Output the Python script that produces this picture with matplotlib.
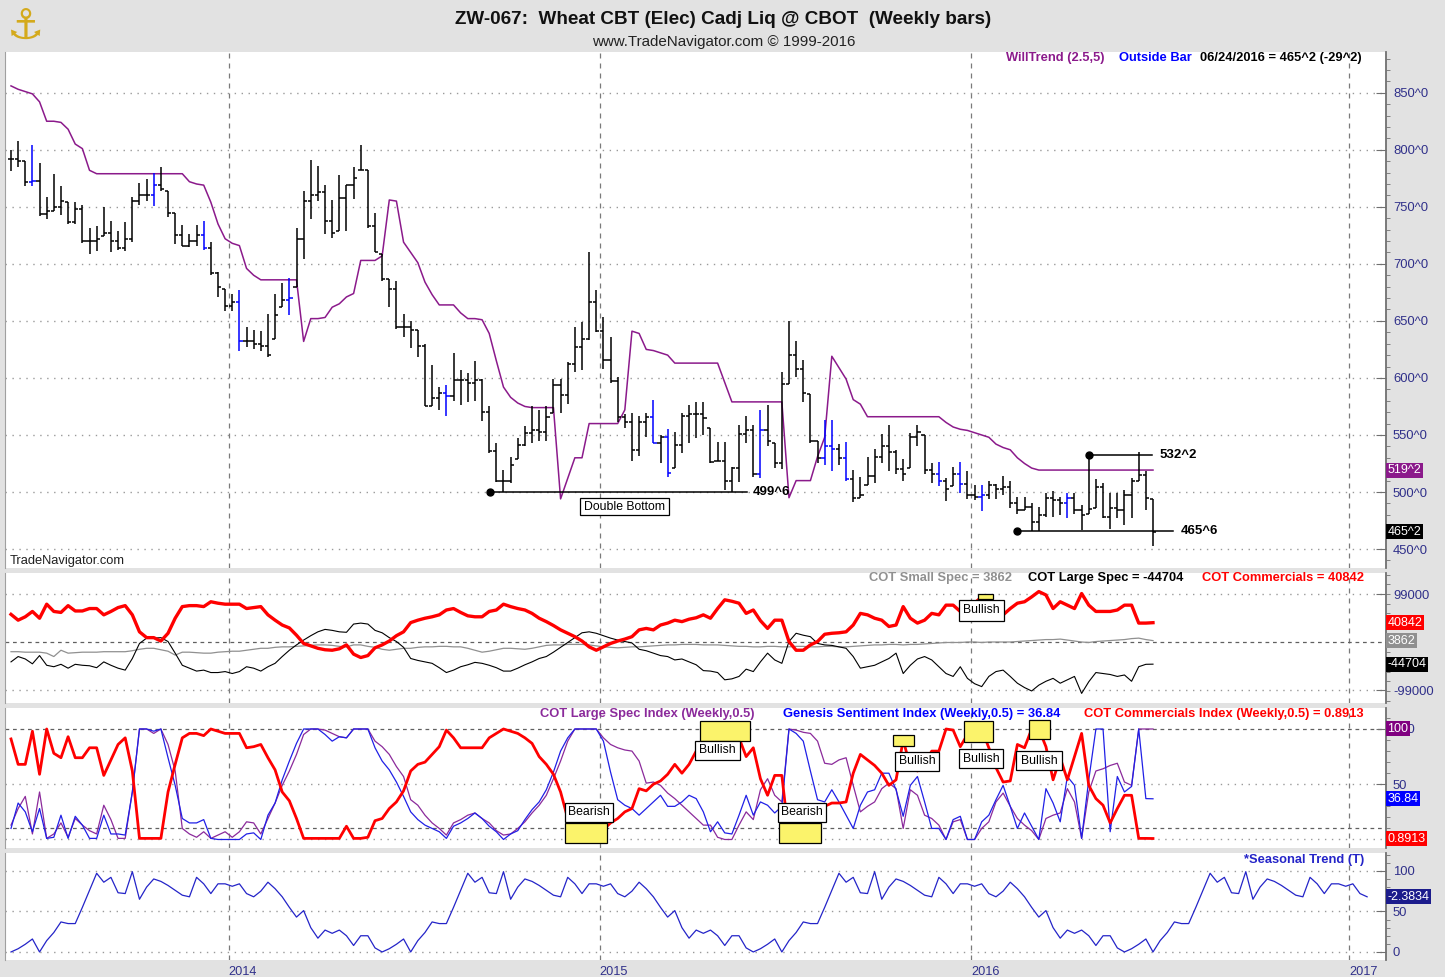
import numpy as np
import pandas as pd
import matplotlib
matplotlib.use('Agg')
import matplotlib.pyplot as plt
from matplotlib.patches import Rectangle
from matplotlib.ticker import FixedLocator

W, H = 1445, 977
plt.rcParams['font.family'] = ['Liberation Sans', 'DejaVu Sans']

LAST_DATE = '2016-06-24'

# weekly bars (cents/bushel)
highs = [800, 808, 790, 804, 788, 759, 779, 768, 754, 754,
         752, 731, 733, 750, 738, 729, 737, 759, 771, 774,
         780, 785, 764, 745, 734, 726, 734, 738, 719, 693,
         678, 674, 677, 645, 642, 641, 656, 674, 683, 688,
         731, 764, 791, 786, 769, 756, 778, 769, 785, 804,
         782, 745, 709, 687, 685, 656, 650, 642, 630, 611,
         592, 594, 622, 607, 604, 615, 599, 575, 543, 519,
         531, 547, 558, 575, 572, 575, 599, 599, 614, 645,
         649, 710, 677, 653, 636, 601, 568, 569, 567, 569,
         581, 550, 555, 553, 569, 576, 579, 579, 556, 544,
         544, 522, 559, 567, 559, 572, 576, 543, 605, 650,
         632, 616, 586, 545, 563, 563, 542, 544, 519, 513,
         531, 538, 551, 559, 537, 529, 552, 559, 550, 525,
         526, 512, 522, 526, 518, 506, 506, 510, 507, 514,
         510, 496, 496, 490, 487, 499, 501, 496, 499, 499,
         489, 532.25, 511, 508, 499, 499, 502, 512, 535, 518, 494]
lows = [781, 785, 768, 768, 742, 739, 746, 743, 735, 735,
        718, 709, 711, 724, 710, 712, 711, 719, 752, 755,
        751, 764, 741, 717, 716, 715, 716, 712, 690, 671,
        659, 659, 624, 627, 625, 624, 618, 634, 662, 655,
        680, 704, 739, 755, 726, 723, 729, 729, 757, 782,
        731, 710, 685, 662, 643, 636, 626, 618, 575, 575,
        572, 567, 580, 576, 579, 580, 562, 534, 509, 499.75,
        508, 529, 540, 543, 545, 545, 569, 569, 577, 605,
        607, 633, 640, 608, 596, 561, 556, 527, 532, 548,
        543, 525, 513, 521, 534, 543, 547, 550, 525, 527,
        502, 499.75, 509, 543, 513, 512, 540, 521, 520, 595,
        601, 579, 543, 525, 524, 518, 524, 510, 491, 495,
        506, 508, 525, 518, 516, 510, 521, 540, 516, 508,
        505, 492, 505, 499, 494, 493, 483, 494, 494, 497,
        486, 481, 484, 466, 465.75, 478, 478, 480, 477, 481,
        467, 481, 486, 477, 468, 477, 471, 477, 510, 484, 453]
closes = [792, 790, 772, 773, 744, 746, 750, 755, 737, 748,
          720, 720, 722, 727, 720, 714, 722, 755, 760, 760,
          769, 766, 745, 725, 716, 720, 725, 714, 692, 680,
          663, 667, 632, 632, 630, 628, 620, 655, 668, 670,
          722, 755, 760, 763, 738, 727, 758, 769, 775, 782,
          733, 710, 687, 678, 645, 645, 642, 628, 575, 582,
          587, 584, 598, 598, 596, 598, 570, 536, 510, 510,
          524, 541, 552, 554, 553, 566, 594, 585, 612, 627,
          634, 667, 641, 616, 597, 566, 561, 537, 561, 566,
          543, 548, 517, 541, 567, 568, 568, 565, 526, 527,
          510, 521, 551, 554, 516, 554, 545, 525, 595, 620,
          608, 587, 545, 530, 540, 538, 530, 511, 495, 497,
          514, 531, 540, 535, 520, 516, 548, 553, 519, 516,
          510, 503, 516, 507, 497, 496, 497, 506, 503, 504,
          490, 484, 487, 474, 480, 495, 493, 490, 495, 484,
          480, 485, 504, 478, 486, 484, 497, 510, 515, 494.5, 465.25]
outside_bars = [3, 20, 27, 32, 39, 61, 90, 92, 105, 114, 115, 117, 130, 133, 136, 148]

willtrend = [856, 853, 851, 849, 842, 825, 825, 824, 818, 805,
             801, 782, 779, 779, 779, 779, 779, 779, 779, 779,
             779, 779, 779, 779, 779, 772, 770, 769, 754, 735,
             722, 718, 716, 696, 690, 686, 686, 686, 686, 686,
             686, 632, 652, 652, 653, 662, 665, 671, 674, 703,
             703, 703, 707, 756, 755, 719, 710, 701, 684, 673,
             664, 664, 664, 657, 652, 652, 651, 639, 615, 592,
             583, 578, 575, 574, 574, 574, 574, 494, 512, 530,
             530, 560, 560, 560, 560, 560, 572, 641, 639, 625,
             624, 622, 620, 613, 613, 613, 613, 613, 613, 613,
             596, 579, 579, 579, 579, 579, 579, 579, 579, 495,
             510, 510, 510, 531, 548, 619, 609, 599, 581, 577,
             566, 566, 566, 566, 566, 566, 566, 566, 566, 566,
             566, 561, 557, 555, 554, 552, 550, 548, 542, 539,
             537, 530, 525, 521, 519.25, 519.25, 519.25, 519.25, 519.25, 519.25,
             519.25, 519.25, 519.25, 519.25, 519.25, 519.25, 519.25, 519.25, 519.25, 519.25, 519.25]

# COT net positions (thousands of contracts)
cot_small = [-19, -19, -20, -20, -20, -22, -29, -16, -22, -21,
             -20, -20, -20, -19, -19, -19, -19, -17, -14, -12,
             -12, -15, -18, -26, -20, -20, -21, -22, -22, -20,
             -19, -18, -18, -16, -14, -12, -12, -10, -9, -9,
             -8, -7, -6, -5, -5, -6, -8, -9, -5, -5,
             -8, -10, -14, -16, -14, -12, -12, -10, -9, -9,
             -8, -8, -9, -9, -12, -16, -20, -18, -15, -12,
             -12, -13, -14, -12, -9, -6, -5, -5, -4, -4,
             -4, -5, -7, -9, -10, -11, -10, -9, -9, -8,
             -7, -6, -5, -5, -4, -4, -4, -5, -5, -5,
             -6, -7, -8, -8, -9, -9, -8, -8, -9, -9,
             -8, -8, -9, -9, -8, -8, -9, -9, -8, -7,
             -6, -5, -5, -4, -4, -5, -4, -4, -3, -2,
             -1, 0, 0, 0, 1, 1, 0, 1, 1, 1,
             1, 2, 3, 4, 5, 6, 6, 7, 5, 3,
             1, 0, 2, 3, 4, 5, 6, 8, 9, 6, 3.862]
cot_large = [-40, -29, -34, -44, -27, -47, -50, -45, -53, -45,
             -47, -48, -52, -40, -47, -53, -57, -33, -2, 9,
             9, 10, 2, -22, -47, -53, -59, -57, -62, -62,
             -60, -64, -60, -50, -53, -59, -50, -43, -29, -16,
             -5, 5, 14, 22, 27, 25, 22, 21, 38, 40,
             38, 25, 20, 10, 2, -10, -33, -37, -40, -43,
             -52, -62, -57, -50, -46, -41, -43, -47, -52, -59,
             -59, -53, -46, -40, -33, -29, -20, -10, 0, 10,
             20, 22, 19, 14, 9, 5, 2, -1, -14, -17,
             -22, -27, -29, -36, -34, -40, -46, -58, -59, -62,
             -77, -75, -70, -55, -60, -40, -22, -36, -43, 2,
             19, 15, 12, -2, -5, -6, -9, -12, -29, -53,
             -50, -47, -40, -33, -22, -64, -47, -34, -29, -36,
             -50, -64, -70, -50, -74, -85, -91, -70, -60, -57,
             -70, -84, -93, -100, -88, -80, -74, -84, -77, -70,
             -105, -81, -62, -64, -66, -70, -67, -80, -50, -45, -44.704]
cot_comm = [58, 46, 53, 64, 50, 79, 64, 62, 76, 65,
            65, 70, 70, 57, 64, 72, 76, 57, 22, 10,
            10, 3, 19, 50, 74, 76, 76, 74, 84, 81,
            79, 79, 79, 70, 72, 74, 57, 46, 36, 30,
            15, -2, -7, -12, -15, -16, -13, -5, -24, -31,
            -27, -11, -5, 3, 14, 22, 41, 46, 50, 53,
            57, 67, 70, 62, 55, 53, 53, 64, 67, 79,
            74, 70, 67, 60, 50, 43, 35, 26, 19, 12,
            3, -9, -16, -9, -2, 3, 7, 12, 26, 29,
            26, 36, 40, 46, 43, 48, 51, 57, 50, 70,
            88, 85, 81, 60, 67, 45, 29, 46, 46, 2,
            -16, -16, -5, 2, 17, 19, 20, 22, 36, 60,
            57, 50, 46, 33, 36, 74, 50, 40, 46, 60,
            57, 77, 77, 64, 70, 81, 94, 81, 60, 57,
            70, 81, 84, 94, 105, 98, 70, 84, 77, 70,
            101, 77, 64, 64, 64, 67, 77, 77, 40, 40, 40.842]

# 0-100 indexes
idx_large = [13, 28, 39, 5, 43, 1, 5, 15, 2, 19,
             13, 8, 5, 31, 18, 1, 1, 43, 100, 100,
             96, 100, 86, 62, 10, 5, 2, 7, 1, 4,
             7, 2, 7, 16, 15, 5, 19, 33, 49, 62,
             77, 95, 100, 100, 99, 96, 93, 92, 100, 100,
             100, 89, 84, 77, 66, 57, 36, 31, 22, 15,
             10, 4, 15, 18, 22, 24, 19, 15, 8, 4,
             5, 10, 16, 24, 31, 40, 55, 71, 89, 100,
             100, 100, 100, 92, 86, 83, 81, 80, 71, 51,
             52, 49, 42, 37, 31, 25, 19, 13, 13, 2,
             0, 0, 13, 25, 18, 45, 55, 40, 34, 100,
             99, 97, 96, 89, 69, 68, 72, 74, 49, 25,
             30, 34, 46, 51, 46, 10, 45, 40, 22, 19,
             13, 0, 16, 18, 0, 0, 10, 16, 34, 42,
             30, 19, 13, 8, 0, 19, 22, 24, 46, 34,
             1, 43, 62, 64, 67, 69, 52, 49, 100, 100, 100]
idx_genesis = [10, 33, 25, 7, 28, 1, 2, 22, 1, 21,
               13, 1, 1, 22, 5, 5, 4, 43, 100, 100,
               98, 100, 74, 49, 19, 15, 15, 18, 1, 0,
               0, 0, 0, 5, 6, 0, 22, 33, 54, 71,
               87, 100, 100, 100, 95, 89, 93, 92, 100, 100,
               100, 83, 71, 63, 52, 39, 25, 18, 13, 10,
               7, 1, 12, 15, 19, 24, 19, 12, 7, 0,
               5, 8, 18, 27, 34, 45, 61, 80, 92, 100,
               100, 100, 100, 89, 61, 36, 31, 28, 22, 28,
               34, 40, 30, 30, 34, 40, 37, 25, 7, 16,
               6, 5, 22, 40, 22, 34, 31, 24, 30, 100,
               96, 89, 62, 36, 34, 45, 34, 22, 10, 31,
               43, 45, 60, 60, 45, 21, 49, 57, 34, 10,
               10, 0, 18, 21, 0, 0, 16, 22, 36, 49,
               30, 10, 24, 12, 0, 46, 33, 16, 57, 49,
               1, 54, 100, 100, 7, 57, 43, 48, 100, 37, 36.84]
idx_comm = [91, 68, 68, 98, 59, 100, 78, 74, 93, 74,
            74, 83, 83, 58, 72, 86, 92, 62, 1, 1,
            1, 1, 43, 68, 92, 96, 96, 94, 100, 98,
            96, 96, 96, 83, 84, 86, 74, 63, 43, 35,
            19, 1, 1, 1, 1, 1, 1, 12, 1, 1,
            2, 17, 19, 28, 34, 44, 62, 68, 70, 77,
            84, 99, 92, 83, 83, 83, 83, 92, 96, 100,
            98, 96, 92, 87, 75, 68, 59, 43, 19, 1,
            1, 1, 1, 9, 15, 19, 25, 28, 46, 44,
            50, 53, 59, 68, 60, 68, 80, 74, 92, 100,
            100, 100, 92, 75, 83, 55, 40, 58, 58, 1,
            1, 1, 1, 16, 30, 33, 33, 34, 60, 77,
            72, 67, 60, 49, 54, 90, 66, 62, 69, 80,
            80, 100, 99, 84, 95, 100, 100, 83, 65, 52,
            53, 86, 83, 100, 100, 84, 54, 74, 54, 75,
            96, 49, 37, 31, 15, 28, 40, 40, 1, 1, 0.8913]

# one-year seasonal profile (weekly), repeated by the indicator each year
seasonal_cycle = [0, 4, 9.5, 16, 0, 14, 24, 37, 35, 35, 55, 76, 97,
                  86, 92, 73, 72, 99, 65, 80, 90, 87, 82, 76, 70, 68,
                  92, 84, 72, 84, 84, 81, 84, 72, 68, 75, 86, 78, 68,
                  55, 43, 51, 30, 17, 27, 23, 27, 20, 8, 20, 20, 5]
seasonal_weeks = 191


def fmt8(v):
    a = abs(v)
    w = int(np.floor(a))
    e = int(round((a - w) * 8))
    return ('-' if v < 0 else '') + f'{w}^{e}'


n = len(closes)
idx = np.arange(n)
dates = pd.date_range(end=LAST_DATE, periods=n, freq='W-FRI')
ext = pd.date_range(start=dates[0], periods=seasonal_weeks + 10, freq='W-FRI')
years = [2014, 2015, 2016, 2017]
year_pos = [int(np.argmax(ext.year == y)) - 0.5 for y in years]

highs = np.array(highs, float)
lows = np.array(lows, float)
closes = np.array(closes, float)
opens = np.clip(np.r_[closes[0], closes[:-1]], lows, highs)
seasonal = np.tile(seasonal_cycle, seasonal_weeks // 52 + 1)[:seasonal_weeks]

BG = '#e2e2e2'
NAVY = '#30308a'
PURPLE = '#8b1a8b'
LEG = 9.3
fig = plt.figure(figsize=(W / 100, H / 100), dpi=100, facecolor=BG)

# pixel geometry
SP = 7.1375
X0 = 11.0
LEFT, RIGHT = 5, 1386


def px2i(x):
    return (x - X0) / SP


def panel(top, bottom):
    ax = fig.add_axes([LEFT / W, 1 - bottom / H, (RIGHT - LEFT) / W, (bottom - top) / H])
    ax.set_facecolor('white')
    ax.set_xlim(px2i(LEFT), px2i(RIGHT))
    for s in ('top', 'bottom'):
        ax.spines[s].set_visible(False)
    ax.spines['left'].set_color('#a0a0a0')
    ax.spines['right'].set_color('#707070')
    ax.spines['right'].set_linewidth(1.3)
    ax.yaxis.tick_right()
    ax.tick_params(axis='y', which='major', direction='in', length=7, color='#707070',
                   labelcolor=NAVY, labelsize=9.4, pad=5)
    ax.tick_params(axis='y', which='minor', direction='out', length=3, color='#707070')
    ax.tick_params(axis='x', which='both', length=0, labelbottom=False)
    for xp in year_pos:
        ax.axvline(xp, color='#7a7a7a', ls=(0, (4, 4)), lw=0.9, zorder=1)
    return ax


def dotted(ax, y):
    ax.axhline(y, color='#9a9a9a', ls=(0, (1, 4)), lw=1.0, zorder=1)


def dashed(ax, y):
    ax.axhline(y, color='#606060', ls=(0, (3, 3)), lw=0.9, zorder=1)


def vbox(ax, y, s, fc, tc='white'):
    ax.text(1.001, y, s, transform=ax.get_yaxis_transform(), ha='left', va='center',
            fontsize=9, color=tc, clip_on=False, zorder=10,
            bbox=dict(boxstyle='square,pad=0.12', fc=fc, ec='none'))


def ftext(x, y, s, **kw):
    kw.setdefault('va', 'center')
    fig.text(x / W, 1 - y / H, s, **kw)


def label_box(ax, xc, yc, s, w, h):
    ax.add_patch(Rectangle((xc - w / 2, yc - h / 2), w, h, fc='white', ec='black',
                           lw=0.9, zorder=6))
    ax.text(xc, yc, s, ha='center', va='center', fontsize=8.8, zorder=7)


def yellow(ax, x0, x1, y0, y1):
    ax.add_patch(Rectangle((x0, y0), x1 - x0, y1 - y0, fc='#fbf36b', ec='black',
                           lw=0.9, zorder=4))


# ---------------- price panel ----------------
ax1 = panel(52, 568)
ax1.set_ylim(433.4, 885.7)
ticks = list(range(450, 851, 50))
for p in ticks:
    dotted(ax1, p)
ax1.yaxis.set_major_locator(FixedLocator(ticks))
ax1.set_yticklabels([f'{p}^0' for p in ticks])
ax1.yaxis.set_minor_locator(FixedLocator(range(440, 886, 10)))

cols = ['#0000ff' if i in outside_bars else 'black' for i in idx]
ax1.vlines(idx, lows, highs, colors=cols, lw=1.1, zorder=3)
ax1.hlines(opens, idx - 0.45, idx, colors=cols, lw=1.1, zorder=3)
ax1.hlines(closes, idx, idx + 0.45, colors=cols, lw=1.1, zorder=3)
ax1.plot(idx, willtrend, color=PURPLE, lw=1.1, zorder=2)

# double bottom
db = lows[69]
ax1.plot([px2i(490), px2i(747)], [db, db], color='black', lw=1.1, zorder=5)
ax1.plot(px2i(490), db, 'o', color='black', ms=5, zorder=5)
ax1.text(px2i(753), db, fmt8(db), ha='left', va='center', fontsize=9.5, weight='bold')
label_box(ax1, px2i(624.5), 486.9, 'Double Bottom', px2i(669) - px2i(580), 14.9)
# recent range
hi, lo = highs[151], lows[144]
ax1.plot([151, px2i(1152)], [hi, hi], color='black', lw=1.1, zorder=5)
ax1.plot(151, hi, 'o', color='black', ms=5, zorder=5)
ax1.text(px2i(1160), hi, fmt8(hi), ha='left', va='center', fontsize=9.5, weight='bold')
ax1.plot([141, px2i(1173)], [lo, lo], color='black', lw=1.1, zorder=5)
ax1.plot(141, lo, 'o', color='black', ms=5, zorder=5)
ax1.text(px2i(1181), lo, fmt8(lo), ha='left', va='center', fontsize=9.5, weight='bold')

vbox(ax1, willtrend[-1], fmt8(willtrend[-1]), PURPLE)
vbox(ax1, closes[-1], fmt8(closes[-1]), 'black')

# ---------------- COT panel ----------------
ax2 = panel(573, 703)
ax2.set_ylim(-124.8, 143.3)
dotted(ax2, 99)
dotted(ax2, -99)
dashed(ax2, 0)
ax2.yaxis.set_major_locator(FixedLocator([-99, 99]))
ax2.set_yticklabels(['-99000', '99000'])
ax2.yaxis.set_minor_locator(FixedLocator(range(-120, 141, 20)))
ax2.plot(idx, cot_small, color='#909090', lw=0.9, zorder=3)
ax2.plot(idx, cot_large, color='black', lw=0.8, zorder=3)
ax2.plot(idx, cot_comm, color='#ff0000', lw=2.4, zorder=4)
yellow(ax2, px2i(978), px2i(993), 89.7, 100)
label_box(ax2, px2i(981.5), 66, 'Bullish', px2i(1004) - px2i(959), 21 * 2.0625)
vbox(ax2, cot_comm[-1], f'{cot_comm[-1] * 1000:.0f}', '#ff0000')
vbox(ax2, cot_small[-1], f'{cot_small[-1] * 1000:.0f}', '#909090')
vbox(ax2, cot_large[-1], f'{cot_large[-1] * 1000:.0f}', 'black')

# ---------------- index panel ----------------
ax3 = panel(708, 848)
ax3.set_ylim(-7.7, 119)
dotted(ax3, 50)
dotted(ax3, 0)
dashed(ax3, 100)
dashed(ax3, 10)
ax3.yaxis.set_major_locator(FixedLocator([50, 100]))
ax3.set_yticklabels(['50', '100'])
ax3.yaxis.set_minor_locator(FixedLocator(range(0, 111, 10)))
ax3.plot(idx, idx_large, color='#8b2a9b', lw=0.9, zorder=3)
ax3.plot(idx, idx_genesis, color='#2020e6', lw=0.9, zorder=3)
ax3.plot(idx, idx_comm, color='#ff0000', lw=2.0, zorder=4)
k = 1.105
signals = [  # text, text box (x0, x1, yc px), yellow (x0, x1, y0, y1 px)
    ('Bearish', (565, 613, 812.5), (565, 607, 823, 843)),
    ('Bullish', (695, 740, 750.5), (700, 750, 721, 741)),
    ('Bearish', (778, 826, 812.5), (779, 821, 823, 843)),
    ('Bullish', (895, 939, 761.5), (893, 914, 735, 746)),
    ('Bullish', (959, 1003, 759.0), (964, 993, 721, 742)),
    ('Bullish', (1016, 1062, 761.0), (1029, 1050, 720, 739)),
]
for txt, (bx0, bx1, byc), (yx0, yx1, yy0, yy1) in signals:
    yellow(ax3, px2i(yx0), px2i(yx1), (839.5 - yy1) / k, (839.5 - yy0) / k)
    label_box(ax3, px2i((bx0 + bx1) / 2), (839.5 - byc) / k, txt,
              px2i(bx1) - px2i(bx0), 19 / k)
vbox(ax3, idx_large[-1], f'{idx_large[-1]:.0f}', '#800080')
vbox(ax3, idx_genesis[-1], f'{idx_genesis[-1]:.2f}', '#0000ff')
vbox(ax3, idx_comm[-1], f'{idx_comm[-1]:.4f}', '#ff0000')

# ---------------- seasonal panel ----------------
ax4 = panel(853, 960)
ax4.set_ylim(-9.9, 122)
for v in (0, 50, 100):
    dotted(ax4, v)
ax4.yaxis.set_major_locator(FixedLocator([0, 50, 100]))
ax4.set_yticklabels(['0', '50', '100'])
ax4.yaxis.set_minor_locator(FixedLocator(range(0, 121, 10)))
ax4.plot(np.arange(seasonal_weeks), seasonal, color='#2424c8', lw=0.9, zorder=3)
vbox(ax4, seasonal[-1], '-2.3834', '#1c1c8c')
ax4.set_xticks(year_pos)
ax4.set_xticklabels([str(y) for y in years])
ax4.tick_params(axis='x', labelbottom=True, labelsize=9.2, labelcolor=NAVY, pad=4)
for t in ax4.get_xticklabels():
    t.set_ha('left')

# ---------------- header and legends ----------------
ftext(26, 27, '\u2693', ha='center', fontsize=30, color='#d4aa1c', family='DejaVu Sans')
ftext(723, 20, 'ZW-067:  Wheat CBT (Elec) Cadj Liq @ CBOT  (Weekly bars)',
      ha='center', fontsize=13.6, weight='bold', color='#111111')
ftext(724, 42, 'www.TradeNavigator.com \u00a9 1999-2016', ha='center', fontsize=10.9,
      color='#222222')

chg = closes[-1] - closes[-2]
ftext(1104, 58, 'WillTrend (2.5,5)', ha='right', fontsize=LEG, weight='bold', color=PURPLE)
ftext(1192, 58, 'Outside Bar', ha='right', fontsize=LEG, weight='bold', color='#0000ff')
ftext(1362, 58, f'{dates[-1]:%m/%d/%Y} = {fmt8(closes[-1])} ({fmt8(chg)})',
      ha='right', fontsize=LEG, weight='bold', color='black')
ftext(10, 561, 'TradeNavigator.com', fontsize=9.3, color='#202020')

ftext(1012, 578, f'COT Small Spec = {cot_small[-1] * 1000:.0f}', ha='right', fontsize=LEG,
      weight='bold', color='#909090')
ftext(1183, 578, f'COT Large Spec = {cot_large[-1] * 1000:.0f}', ha='right', fontsize=LEG,
      weight='bold', color='black')
ftext(1364, 578, f'COT Commercials = {cot_comm[-1] * 1000:.0f}', ha='right', fontsize=LEG,
      weight='bold', color='#ff0000')

ftext(755, 714, 'COT Large Spec Index (Weekly,0.5)', ha='right', fontsize=LEG,
      weight='bold', color='#8b2a9b')
ftext(1060, 714, f'Genesis Sentiment Index (Weekly,0.5) = {idx_genesis[-1]:.2f}',
      ha='right', fontsize=LEG, weight='bold', color='#0000ff')
ftext(1364, 714, f'COT Commercials Index (Weekly,0.5) = {idx_comm[-1]:.4f}',
      ha='right', fontsize=LEG, weight='bold', color='#ff0000')
ftext(1364, 860, '*Seasonal Trend (T)', ha='right', fontsize=LEG, weight='bold',
      color='#2424c8')

fig.savefig('out.png', dpi=100, facecolor=BG)
